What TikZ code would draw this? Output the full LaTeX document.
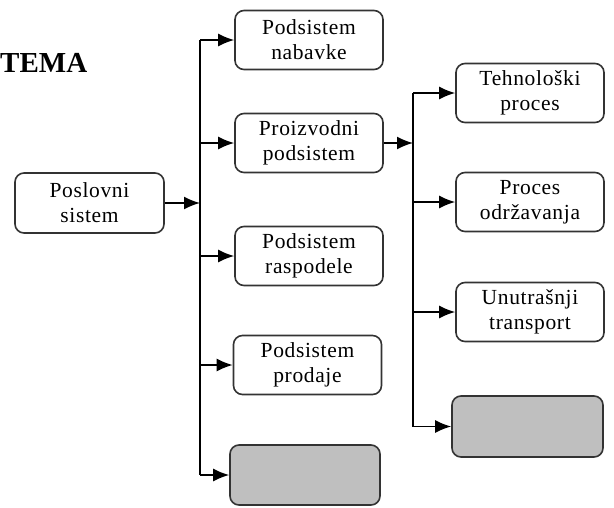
\documentclass[tikz,border=0pt]{standalone}
\usepackage{fontspec}
\setmainfont{Liberation Serif}
\newfontfamily\boxfont[LetterSpace=3]{Liberation Serif}
\usetikzlibrary{arrows.meta,calc}
\begin{document}
\begin{tikzpicture}[x=1pt,y=-1pt,
  box/.style={draw=black!80, line width=1.6pt, rounded corners=9pt, fill=white,
    minimum width=148pt, minimum height=59pt, inner sep=0pt, align=center,
    font=\boxfont\fontsize{21.5}{25}\selectfont},
  graybox/.style={box, fill=black!25},
  arr/.style={line width=1.6pt, -{Latex[length=16pt,width=13pt]}},
  trunk/.style={line width=1.6pt}]
\useasboundingbox (0,0) rectangle (614,507);
\node[anchor=base west, inner sep=0pt, font=\bfseries\fontsize{29}{32}\selectfont] (title) at (0,72) {TEMA};
% left
\node[box, minimum width=149pt, minimum height=60pt] (pos) at (89.5,203) {Poslovni\\sistem};
\node[box] (nab) at (309,40) {Podsistem\\nabavke};
\node[box] (pro) at (309,143) {Proizvodni\\podsistem};
\node[box] (ras) at (309,256) {Podsistem\\raspodele};
\node[box] (prd) at (307.5,365) {Podsistem\\prodaje};
\node[graybox, minimum width=150pt, minimum height=60pt] (g1) at (305,475) {};
% right
\node[box] (teh) at (530,93) {Tehnološki\\proces};
\node[box] (odr) at (530,202) {Proces\\održavanja};
\node[box] (unu) at (530,312) {Unutrašnji\\transport};
\node[graybox, minimum width=151pt, minimum height=61pt] (g2) at (527.5,426.5) {};
% trunks
\coordinate (T1) at (200,0);
\coordinate (T2) at (413,0);
\draw[trunk] (nab.west -| T1) -- (g1.west -| T1);
\draw[trunk] (teh.west -| T2) -- (g2.west -| T2);
\draw[arr] (pos.east) -- (pos.east -| T1);
\draw[arr] (pro.east) -- (pro.east -| T2);
\foreach \n in {nab,pro,ras,prd,g1} \draw[arr] (\n.west -| T1) -- (\n.west);
\foreach \n in {teh,odr,unu,g2} \draw[arr] (\n.west -| T2) -- (\n.west);
\end{tikzpicture}
\end{document}
